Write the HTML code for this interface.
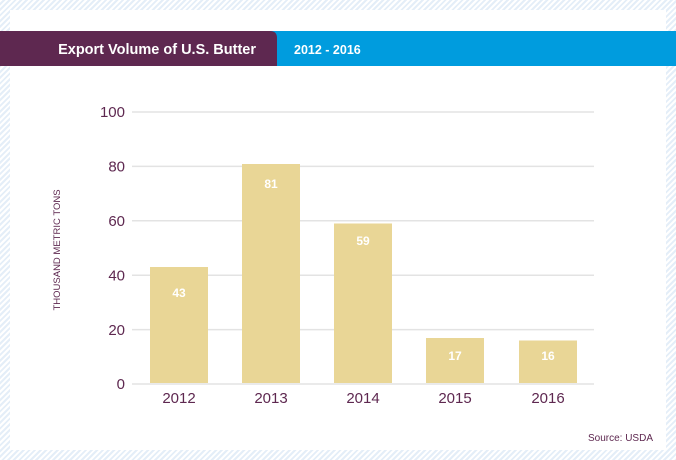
<!DOCTYPE html>
<html><head><meta charset="utf-8"><style>
html,body{margin:0;padding:0}
body{width:676px;height:460px;overflow:hidden;position:relative;font-family:"Liberation Sans",sans-serif;
background:repeating-linear-gradient(135deg,#ffffff 0 2px,#e4eef8 2px 4px);}
.card{position:absolute;left:10px;top:10px;width:656px;height:440px;background:#fff}
</style></head><body>
<div class="card"></div>
<svg width="676" height="460" style="position:absolute;left:0;top:0" font-family="Liberation Sans, sans-serif">
<rect x="270" y="31" width="406" height="35" fill="#009cde"/>
<path d="M0 31 H270 Q277 31 277 38 V66 H0 Z" fill="#5e2850"/>
<text x="256" y="54" fill="#fff" font-size="14.5" font-weight="bold" text-anchor="end">Export Volume of U.S. Butter</text>
<text x="294" y="54" fill="#fff" font-size="12.5" font-weight="bold">2012 - 2016</text>
<g stroke="#e3e3e3" stroke-width="1.5">
<line x1="132" x2="594" y1="112" y2="112"/>
<line x1="132" x2="594" y1="166.4" y2="166.4"/>
<line x1="132" x2="594" y1="220.8" y2="220.8"/>
<line x1="132" x2="594" y1="275.2" y2="275.2"/>
<line x1="132" x2="594" y1="329.6" y2="329.6"/>
<line x1="132" x2="594" y1="384" y2="384"/>
</g>
<g fill="#5e2850" font-size="15" text-anchor="end">
<text x="125" y="117">100</text><text x="125" y="171.5">80</text><text x="125" y="226">60</text>
<text x="125" y="280.5">40</text><text x="125" y="335">20</text><text x="125" y="389">0</text>
</g>
<g fill="#e9d696">
<rect x="150" y="267" width="58" height="116"/>
<rect x="242" y="164" width="58" height="219"/>
<rect x="334" y="223.5" width="58" height="159.5"/>
<rect x="426" y="338" width="58" height="45"/>
<rect x="519" y="340.5" width="58" height="42.5"/>
</g>
<g fill="#fff" font-size="12" font-weight="bold" text-anchor="middle">
<text x="179" y="297">43</text><text x="271" y="188">81</text><text x="363" y="245">59</text>
<text x="455" y="360">17</text><text x="548" y="360">16</text>
</g>
<g fill="#5e2850" font-size="15" text-anchor="middle">
<text x="179" y="403">2012</text><text x="271" y="403">2013</text><text x="363" y="403">2014</text>
<text x="455" y="403">2015</text><text x="548" y="403">2016</text>
</g>
<text transform="translate(60,250) rotate(-90)" fill="#5e2850" font-size="9.5" text-anchor="middle">THOUSAND METRIC TONS</text>
<text x="653" y="441" fill="#5e2850" font-size="10" text-anchor="end">Source: USDA</text>
</svg>
</body></html>
